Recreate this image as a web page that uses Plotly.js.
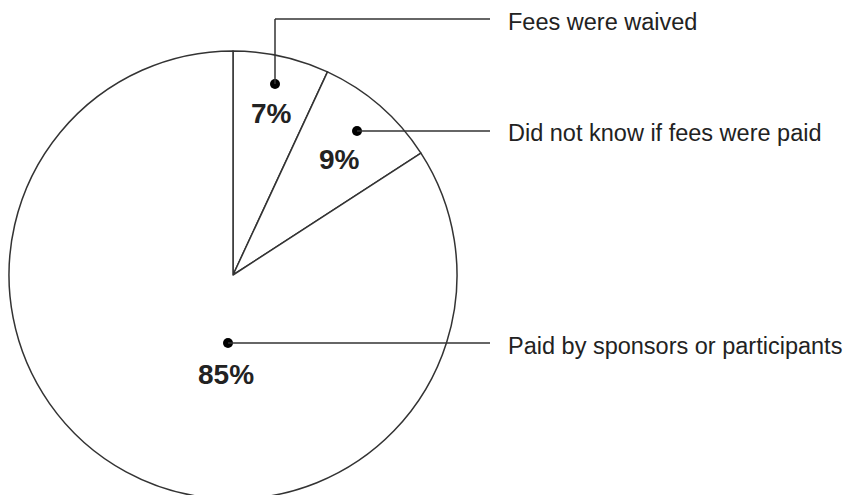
<!DOCTYPE html>
<html>
<head>
<meta charset="utf-8">
<script src="https://cdn.plot.ly/plotly-3.0.1.min.js"></script>
<style>
html,body{margin:0;padding:0;background:#fff;overflow:hidden;}
#wrap{width:848px;height:495px;overflow:hidden;}
#chart{width:848px;height:500px;}
</style>
</head>
<body>
<div id="wrap"><div id="chart"></div></div>
<script>
// Data
const categories = ["Fees were waived", "Did not know if fees were paid", "Paid by sponsors or participants"];
const values = [7, 9, 85];
const percentLabels = values.map(v => v + "%");

// Layout helpers (pixel -> paper, figure is 848 x 500, cropped to 495)
const W = 848, H = 500;
const px = x => x / W;
const py = y => 1 - y / H;

const lineColor = "#333333";
const textColor = "#222222";
const font = "Liberation Sans, Arial, sans-serif";

// label anchor positions (styling/positions only)
const dotPos = [[275, 84], [357, 131], [228, 343]];
const pctPos = [[271.5, 114], [339.5, 159.5], [225.5, 374]];
const labelY = [22, 133, 346];
const lineEndX = 490;
const labelX = 506;

const shapes = [];
const annotations = [];
categories.forEach((cat, i) => {
  const [dx, dy] = dotPos[i];
  const r = 5;
  shapes.push({type: "circle", xref: "paper", yref: "paper",
    x0: px(dx - r), x1: px(dx + r), y0: py(dy + r), y1: py(dy - r),
    fillcolor: "#000", line: {width: 0}});
  if (i === 0) {
    shapes.push({type: "line", xref: "paper", yref: "paper",
      x0: px(dx), y0: py(dy), x1: px(dx), y1: py(19), line: {color: lineColor, width: 1.5}});
    shapes.push({type: "line", xref: "paper", yref: "paper",
      x0: px(dx), y0: py(19), x1: px(lineEndX), y1: py(19), line: {color: lineColor, width: 1.5}});
  } else {
    shapes.push({type: "line", xref: "paper", yref: "paper",
      x0: px(dx), y0: py(dy), x1: px(lineEndX), y1: py(dy), line: {color: lineColor, width: 1.5}});
  }
  annotations.push({xref: "paper", yref: "paper", x: px(labelX), y: py(labelY[i]),
    xanchor: "left", yanchor: "middle", showarrow: false, text: cat,
    font: {family: font, size: 23.5, color: textColor}});
  annotations.push({xref: "paper", yref: "paper", x: px(pctPos[i][0]), y: py(pctPos[i][1]),
    xanchor: "center", yanchor: "middle", showarrow: false, text: "<b>" + percentLabels[i] + "</b>",
    font: {family: font, size: 28, color: textColor}});
});

const trace = {
  type: "pie",
  labels: categories,
  values: values,
  sort: false,
  direction: "clockwise",
  rotation: 0,
  textinfo: "none",
  hoverinfo: "none",
  showlegend: false,
  marker: {colors: ["#ffffff", "#ffffff", "#ffffff"], line: {color: lineColor, width: 1.5}},
  domain: {x: [px(9), px(457)], y: [py(499), py(51)]}
};

const layout = {
  width: W, height: H,
  margin: {l: 0, r: 0, t: 0, b: 0},
  paper_bgcolor: "#ffffff",
  plot_bgcolor: "#ffffff",
  showlegend: false,
  shapes: shapes,
  annotations: annotations
};

Plotly.newPlot("chart", [trace], layout, {staticPlot: true, displayModeBar: false});
</script>
</body>
</html>
